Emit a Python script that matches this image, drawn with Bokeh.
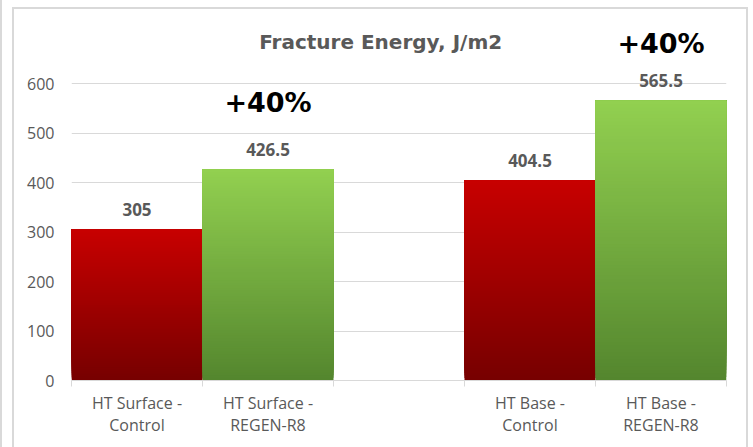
from bokeh.plotting import figure
from bokeh.models import FixedTicker, Label, Range1d
from bokeh.core.properties import value
from bokeh.embed import file_html
from bokeh.resources import INLINE

# ---- data ----
categories = ["HT Surface -\nControl", "HT Surface -\nREGEN-R8", "", "HT Base -\nControl", "HT Base -\nREGEN-R8"]
values = [305, 426.5, None, 404.5, 565.5]
series = ["Control", "REGEN-R8", None, "Control", "REGEN-R8"]
value_labels = ["305", "426.5", "", "404.5", "565.5"]
gain_labels = ["+40%", "+40%"]
gain_categories = ["HT Surface -\nREGEN-R8", "HT Base -\nREGEN-R8"]
y_ticks = [0, 100, 200, 300, 400, 500, 600]
title_text = "Fracture Energy, J/m2"

# ---- styles ----
top_colors = {"Control": (200, 0, 0), "REGEN-R8": (146, 208, 80)}
bottom_colors = {"Control": (118, 0, 0), "REGEN-R8": (84, 134, 46)}
GRAY = "#595959"
LIGHT = "#d9d9d9"

p = figure(frame_width=655, frame_height=366, output_backend="svg", toolbar_location=None,
           x_range=Range1d(0.5, len(categories) + 0.5), y_range=Range1d(0, 740),
           min_border_left=71, min_border_right=27, min_border_top=14, min_border_bottom=67)
p.outline_line_color = None
p.border_fill_color = None
p.background_fill_color = None
g = "linear-gradient(%s,%s)" % (LIGHT, LIGHT)
p.styles = {
    "background-color": "white",
    "background-image": ", ".join([g] * 4),
    "background-size": "2px 100%, 2px 100%, 736px 2px, 2px 100%",
    "background-position": "0px 0px, 12px 7px, 12px 7px, 746px 7px",
    "background-repeat": "no-repeat",
}

# gradient bars built from stacked strips
N = 80
left, right, bottom, top, colors = [], [], [], [], []
for i, (v, s) in enumerate(zip(values, series)):
    if v is None:
        continue
    x = i + 1
    c1, c0 = top_colors[s], bottom_colors[s]
    for k in range(N):
        t = (k + 0.5) / N
        rgb = tuple(int(round(c0[j] + (c1[j] - c0[j]) * t)) for j in range(3))
        left.append(x - 0.5)
        right.append(x + 0.5)
        bottom.append(v * k / N)
        top.append(v)
        colors.append("#%02x%02x%02x" % rgb)
p.quad(left=left, right=right, bottom=bottom, top=top, fill_color=colors, line_color=None)

# value labels
lx = [i + 1 for i, v in enumerate(values) if v is not None]
ly = [v for v in values if v is not None]
lt = [t for t, v in zip(value_labels, values) if v is not None]
p.text(x=lx, y=ly, text=lt, text_align="center", text_baseline="middle", y_offset=-20,
       text_font=value("Open Sans"), text_font_style="bold", text_font_size="17px", text_color=GRAY)

# +40% annotations
gain_y = [562, 681]
for lab, cat, gy in zip(gain_labels, gain_categories, gain_y):
    p.add_layout(Label(x=categories.index(cat) + 1, y=gy, text=lab, text_align="center",
                       text_baseline="middle", text_font="DejaVu Sans", text_font_style="bold",
                       text_font_size="27px", text_color="black"))

# title
p.add_layout(Label(x=2.86, y=685, text=title_text, text_align="center", text_baseline="middle",
                   text_font="DejaVu Sans", text_font_style="bold", text_font_size="20px",
                   text_color=GRAY))

# axes
major = [i + 1 for i, c in enumerate(categories) if c]
p.xaxis.ticker = FixedTicker(ticks=major, minor_ticks=[i + 0.5 for i in range(len(categories) + 1)])
p.xaxis.major_label_overrides = {i + 1: c for i, c in enumerate(categories) if c}
p.xaxis.major_tick_line_color = None
p.xaxis.major_tick_out = 0
p.xaxis.major_tick_in = 0
p.xaxis.minor_tick_out = 6
p.xaxis.minor_tick_in = 0
p.xaxis.minor_tick_line_color = LIGHT
p.xaxis.axis_line_color = LIGHT
p.xaxis.major_label_standoff = 5
p.xaxis.major_label_text_font = "Open Sans"
p.xaxis.major_label_text_font_size = "16px"
p.xaxis.major_label_text_color = GRAY
p.xaxis.major_label_text_line_height = 1.0

p.yaxis.ticker = FixedTicker(ticks=y_ticks)
p.yaxis.axis_line_color = None
p.yaxis.major_tick_line_color = None
p.yaxis.minor_tick_line_color = None
p.yaxis.major_label_standoff = 11
p.yaxis.major_label_text_font = "Open Sans"
p.yaxis.major_label_text_font_size = "16px"
p.yaxis.major_label_text_color = GRAY

p.xgrid.grid_line_color = None
p.ygrid.ticker = FixedTicker(ticks=y_ticks[1:])
p.ygrid.grid_line_color = LIGHT
p.ygrid.grid_line_width = 1

open("out.html", "w").write(file_html(p, INLINE))
